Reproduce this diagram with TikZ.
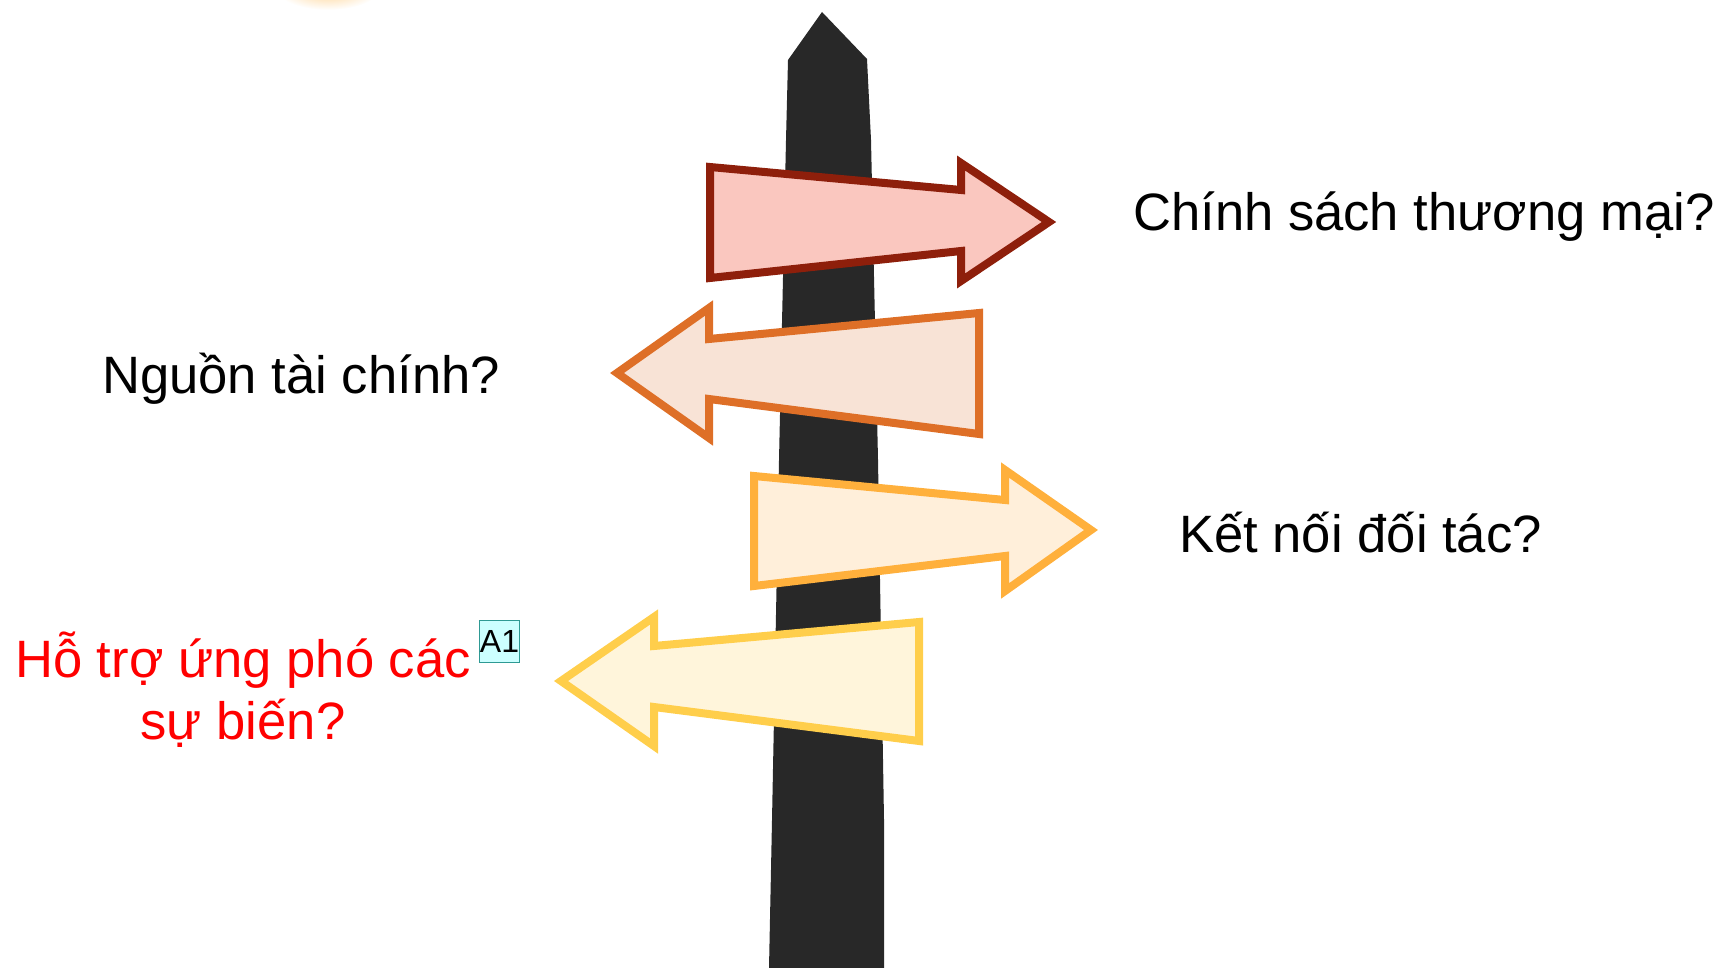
\documentclass[tikz,border=0pt]{standalone}
\usepackage{fontspec}
\setmainfont{Liberation Sans}
\definecolor{postgray}{HTML}{282828}
\definecolor{redline}{HTML}{8E1F0B}
\definecolor{redfill}{HTML}{FAC7BF}
\definecolor{orangeline}{HTML}{DE6F27}
\definecolor{orangefill}{HTML}{F8E3D6}
\definecolor{amberline}{HTML}{FFB03C}
\definecolor{amberfill}{HTML}{FFEFDA}
\definecolor{yellowline}{HTML}{FFCE4B}
\definecolor{yellowfill}{HTML}{FFF5DB}
\definecolor{tagline}{HTML}{2E9A94}
\definecolor{tagfill}{HTML}{CCFFFF}
\definecolor{sunglow}{HTML}{FFD08A}
\begin{document}
\begin{tikzpicture}[x=1pt,y=-1pt,
  label/.style={inner sep=0,font=\fontsize{52.6}{62}\selectfont}]
\useasboundingbox (0,0) rectangle (1720,968);
\shade[inner color=sunglow,outer color=white] (328,-12) ellipse (52 and 22);

% post
\path[fill=postgray] (822,12) -- (867,59) -- (871,140) -- (878,460) -- (884,820) -- (884,968)
  -- (769,968) -- (772,820) -- (779,460) -- (786,140) -- (788,60) -- cycle;

% signs
\foreach \ln/\fl/\xa/\yat/\yab/\xh/\yst/\ysb/\yht/\yhb/\xt/\yt in {
redline/redfill/710/167/278/961/190/251/163/281/1049/222,
orangeline/orangefill/979/313/434/709/339/399/308/438/617/373,
amberline/amberfill/754/476/586/1005/500/556/470/591/1091/530,
yellowline/yellowfill/919/622/741/654/646/707/617/746/561/681}{
    \filldraw[draw=\ln,fill=\fl,line width=8,miter limit=4] (\xa,\yat) -- (\xh,\yst) -- (\xh,\yht) -- (\xt,\yt)
      -- (\xh,\yhb) -- (\xh,\ysb) -- (\xa,\yab) -- cycle;
}

\node[label,anchor=base west] at (1133,231)(trade){Chính sách thương mại?};
\node[label,anchor=base west] at (102,393)(finance){Nguồn tài chính?};
\node[label,anchor=base west] at (1179,552)(partner){Kết nối đối tác?};
\node[label,anchor=base,align=center,text=red] at (243,739)(support){Hỗ trợ ứng phó các\\sự biến?};
\node[draw=tagline,fill=tagfill,line width=1,inner sep=0,minimum width=39,minimum height=42,
  font=\fontsize{32}{36}\selectfont] at (499.5,641)(a1){A1};
\end{tikzpicture}
\end{document}
